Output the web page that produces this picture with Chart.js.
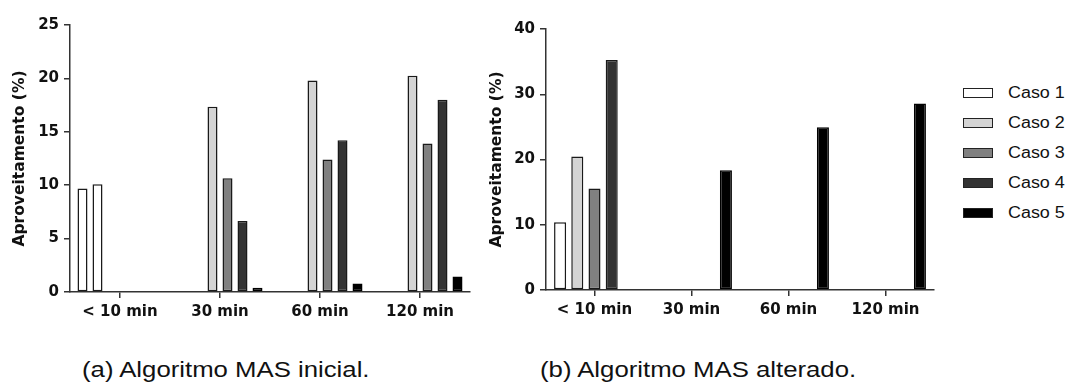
<!DOCTYPE html>
<html>
<head>
<meta charset="utf-8">
<script src="https://cdn.jsdelivr.net/npm/chart.js@4.4.0/dist/chart.umd.min.js"></script>
<style>
  body { margin: 0; background: #fff; width: 1069px; height: 383px; position: relative; overflow: hidden; }
  .box { position: absolute; top: 0; height: 330px; }
  #wrapA { left: 0; width: 480px; }
  #wrapB { left: 480px; width: 460px; }
  .caption { position: absolute; top: 359px; font: 22px "Liberation Sans", Arial, sans-serif; line-height: 22px;
    color: #111; white-space: nowrap; transform: scaleX(1.17); transform-origin: left center; }
  #legend { position: absolute; left: 963px; top: 78px; }
  .leg-item { height: 30px; display: flex; align-items: center; }
  .leg-box { width: 28px; height: 8px; border: 1px solid #222; }
  .leg-label { margin-left: 15px; font: 16px "Liberation Sans", Arial, sans-serif; color: #111;
    transform: scaleX(1.12); transform-origin: left center; }
</style>
</head>
<body>
<div class="box" id="wrapA"><canvas id="chartA"></canvas></div>
<div class="box" id="wrapB"><canvas id="chartB"></canvas></div>
<div id="legend"></div>
<div class="caption" style="left:82px">(a) Algoritmo MAS inicial.</div>
<div class="caption" style="left:540px">(b) Algoritmo MAS alterado.</div>
<script>
const categories = ["< 10 min", "30 min", "60 min", "120 min"];
const seriesNames = ["Caso 1", "Caso 2", "Caso 3", "Caso 4", "Caso 5"];
const seriesColors = ["#ffffff", "#d4d4d4", "#808080", "#333333", "#000000"];

// (a) inicial - two white columns sit in the first group
const inicialCaso1a = [9.7, null, null, null];
const inicialCaso1b = [10.1, null, null, null];
const inicialCaso2 = [null, 17.35, 19.8, 20.25];
const inicialCaso3 = [null, 10.65, 12.4, 13.9];
const inicialCaso4 = [null, 6.65, 14.2, 18.0];
const inicialCaso5 = [null, 0.4, 0.8, 1.45];

// (b) alterado
const alteradoCaso1 = [10.4, null, null, null];
const alteradoCaso2 = [20.45, null, null, null];
const alteradoCaso3 = [15.55, null, null, null];
const alteradoCaso4 = [35.25, null, null, null];
const alteradoCaso5 = [null, 18.35, 24.95, 28.6];

const yTicksA = { min: 0, max: 25, step: 5 };
const yTicksB = { min: 0, max: 40, step: 10 };

const AXIS = "#333";
const tickFont = { family: "DejaVu Sans", size: 15, weight: "bold" };
const titleFont = { family: "DejaVu Sans", size: 15.5, weight: "bold" };

function bar(label, data, color) {
  return {
    label,
    data,
    backgroundColor: color,
    borderColor: color === "#000000" ? "#000" : "#1a1a1a",
    borderWidth: 1.5,
    borderSkipped: false,
  };
}

function makeOptions(yt, yWidth, titlePad, xHeight, padTop, padRight, catPct, barPct) {
  return {
    responsive: true,
    maintainAspectRatio: false,
    animation: false,
    categoryPercentage: catPct,
    barPercentage: barPct,
    layout: { padding: { top: padTop, right: padRight, left: 0, bottom: 0 } },
    plugins: { legend: { display: false }, tooltip: { enabled: false } },
    scales: {
      x: {
        grid: { display: true, drawOnChartArea: false, offset: false, tickLength: 6, color: AXIS, lineWidth: 1.5 },
        border: { display: true, color: AXIS, width: 1.5 },
        ticks: { font: tickFont, color: "#111", padding: 5, maxRotation: 0 },
        afterFit: (s) => { s.height = xHeight; },
      },
      y: {
        min: yt.min,
        max: yt.max,
        grid: { display: true, drawOnChartArea: false, tickLength: 6, color: AXIS, lineWidth: 1.5 },
        border: { display: true, color: AXIS, width: 1.5 },
        ticks: { stepSize: yt.step, font: tickFont, color: "#111", padding: 5 },
        title: { display: true, text: "Aproveitamento (%)", font: titleFont, color: "#111", padding: { top: titlePad, bottom: 0 } },
        afterFit: (s) => { s.width = yWidth; },
      },
    },
  };
}

new Chart(document.getElementById("chartA"), {
  type: "bar",
  data: {
    labels: categories,
    datasets: [
      bar(seriesNames[0], inicialCaso1a, seriesColors[0]),
      bar(seriesNames[0], inicialCaso1b, seriesColors[0]),
      bar(seriesNames[1], inicialCaso2, seriesColors[1]),
      bar(seriesNames[2], inicialCaso3, seriesColors[2]),
      bar(seriesNames[3], inicialCaso4, seriesColors[3]),
      bar(seriesNames[4], inicialCaso5, seriesColors[4]),
    ],
  },
  options: makeOptions(yTicksA, 70, 11, 38, 25, 10, 0.9, 0.667),
});

new Chart(document.getElementById("chartB"), {
  type: "bar",
  data: {
    labels: categories,
    datasets: [
      bar(seriesNames[0], alteradoCaso1, seriesColors[0]),
      bar(seriesNames[1], alteradoCaso2, seriesColors[1]),
      bar(seriesNames[2], alteradoCaso3, seriesColors[2]),
      bar(seriesNames[3], alteradoCaso4, seriesColors[3]),
      bar(seriesNames[4], alteradoCaso5, seriesColors[4]),
    ],
  },
  options: makeOptions(yTicksB, 66, 8, 40, 29, 6, 0.887, 0.7),
});

const legendEl = document.getElementById("legend");
legendEl.innerHTML = seriesNames.map((n, i) => `
  <div class="leg-item">
    <span class="leg-box" style="background:${seriesColors[i]}"></span>
    <span class="leg-label">${n}</span>
  </div>
`).join("");
</script>
</body>
</html>
